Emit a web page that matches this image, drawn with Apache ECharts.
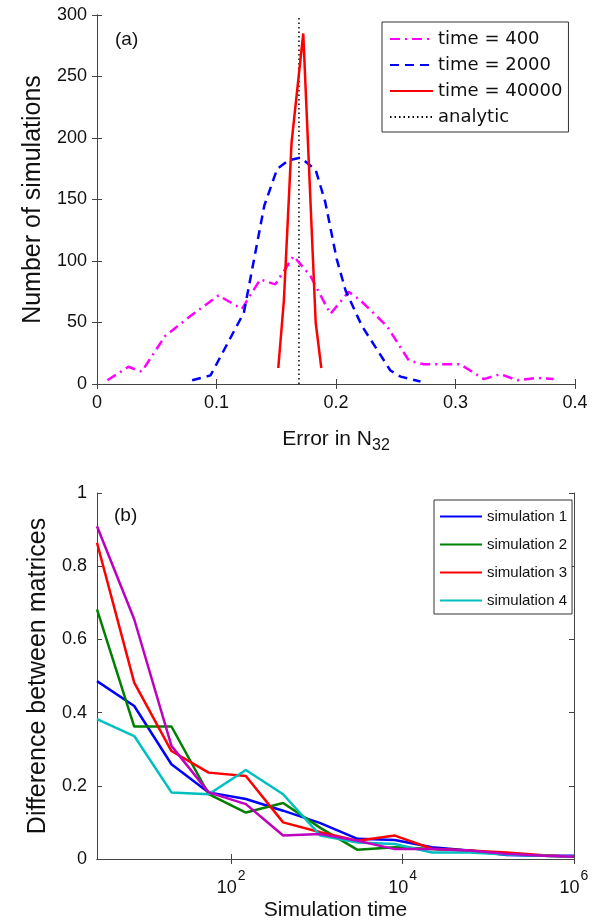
<!DOCTYPE html>
<html>
<head>
<meta charset="utf-8">
<script src="https://cdn.jsdelivr.net/npm/echarts@6/dist/echarts.min.js"></script>
<style>
html,body{margin:0;padding:0;background:#fff;}
#chart{width:593px;height:922px;}
</style>
</head>
<body>
<div id="chart"></div>
<script>
// ---------- Panel (a) data ----------
const t400X = [0.0087,0.0263,0.0374,0.057,0.0779,0.1017,0.1212,0.1366,0.1492,0.1645,0.1785,0.1953,0.2106,0.2204,0.2427,0.261,0.2735,0.304,0.3237,0.3377,0.3517,0.368,0.382];
const t400Y = [3,14,10,39,55,72,61,85,81,104,88,57,75,68,47,19,16,16,4,8,3,5,4];
const t2000X = [0.0796,0.095,0.1229,0.14,0.1508,0.1606,0.1704,0.183,0.191,0.2005,0.208,0.2218,0.2455,0.254,0.2707];
const t2000Y = [3,7,58,145,175,182,184,174,148,102,76,47,11,6,2];
const t40000X = [0.1517,0.1564,0.1628,0.1726,0.183,0.1877];
const t40000Y = [13,68,196,285,50,13];
const analyticX = [0.169,0.169];
const analyticY = [0,300];
const seriesA = ['time = 400','time = 2000','time = 40000','analytic'];
const xTicksA = [0,0.1,0.2,0.3,0.4];
const yTicksA = [0,50,100,150,200,250,300];

// ---------- Panel (b) data ----------
const simTimes = [2.718,7.389,20.09,54.6,148.4,403.4,1097,2981,8103,22026,59874,162755,442413,1000000];
const sim1 = [0.486,0.418,0.259,0.182,0.164,0.132,0.098,0.055,0.052,0.032,0.023,0.011,0.009,0.009];
const sim2 = [0.682,0.362,0.362,0.177,0.127,0.153,0.085,0.025,0.032,0.027,0.023,0.014,0.009,0.006];
const sim3 = [0.864,0.482,0.295,0.236,0.227,0.100,0.073,0.050,0.064,0.028,0.023,0.018,0.010,0.006];
const sim4 = [0.382,0.336,0.182,0.177,0.243,0.177,0.064,0.045,0.041,0.018,0.018,0.012,0.009,0.006];
const sim5 = [0.909,0.655,0.309,0.182,0.150,0.064,0.068,0.050,0.027,0.027,0.023,0.014,0.009,0.006];
const simNames = ['simulation 1','simulation 2','simulation 3','simulation 4','simulation 5'];
const xTicksB = [100,10000,1000000];
const yTicksB = [0,0.2,0.4,0.6,0.8,1];

const FONT = 'Liberation Sans';
const zip = (xs, ys) => xs.map((x, i) => [x, ys[i]]);
function powLabel(v){
  const e = Math.round(Math.log10(v));
  if (Math.abs(Math.log10(v) - e) > 1e-6 || xTicksB.indexOf(Math.pow(10,e)) < 0) return '';
  return '{b|10}{s|' + e + '}';
}

const chart = echarts.init(document.getElementById('chart'), null, {renderer:'canvas'});
const frameAxis = {
  axisLine:{show:true, lineStyle:{color:'#444', width:1}},
  axisTick:{show:true, inside:true, length:5, lineStyle:{color:'#444'}},
  axisLabel:{show:false},
  splitLine:{show:false}
};
const tickFont = {color:'#111', fontFamily:FONT, fontSize:18};
const legendHide = {opacity:0};

const option = {
  animation:false,
  backgroundColor:'#fff',
  textStyle:{fontFamily:FONT},
  grid:[
    {left:97, right:18, top:15, height:369},
    {left:97, right:19, top:493, height:367}
  ],
  xAxis:[
    {gridIndex:0, type:'value', min:xTicksA[0], max:xTicksA[xTicksA.length-1], interval:0.1,
     name:'{a|Error in N}{s|32}', nameLocation:'middle', nameGap:40,
     nameTextStyle:{rich:{a:{fontFamily:FONT,fontSize:21,color:'#111'}, s:{fontFamily:FONT,fontSize:16,color:'#111',padding:[14,0,0,0]}}},
     axisLine:{show:true, lineStyle:{color:'#444'}},
     axisTick:{show:true, inside:true, length:5, lineStyle:{color:'#444'}},
     axisLabel:Object.assign({margin:10, formatter:v=>String(v)}, tickFont),
     splitLine:{show:false}},
    Object.assign({gridIndex:0, type:'value', position:'top', min:0, max:0.4, interval:0.1}, frameAxis),
    {gridIndex:1, type:'log', logBase:10, min:simTimes[0], max:simTimes[simTimes.length-1], splitNumber:3,
     name:'Simulation time', nameLocation:'middle', nameGap:41,
     nameTextStyle:{fontFamily:FONT, fontSize:21, color:'#111'},
     axisLine:{show:true, lineStyle:{color:'#444'}},
     axisTick:{show:true, inside:true, length:5, lineStyle:{color:'#444'}, customValues:xTicksB},
     axisLabel:{show:true, margin:6, customValues:xTicksB, formatter:powLabel,
       rich:{b:{fontFamily:FONT,fontSize:18,color:'#111',padding:[14,0,0,0]}, s:{fontFamily:FONT,fontSize:14,color:'#111',padding:[0,0,10,1]}}},
     splitLine:{show:false}},
    Object.assign({gridIndex:1, type:'log', logBase:10, position:'top', min:simTimes[0], max:simTimes[simTimes.length-1], splitNumber:3}, frameAxis,
      {axisTick:{show:true, inside:true, length:5, lineStyle:{color:'#444'}, customValues:xTicksB}})
  ],
  yAxis:[
    {gridIndex:0, type:'value', min:0, max:300, interval:50,
     name:'Number of simulations', nameLocation:'middle', nameGap:41,
     nameTextStyle:{fontFamily:FONT, fontSize:25, color:'#111'},
     axisLine:{show:true, lineStyle:{color:'#444'}},
     axisTick:{show:true, inside:true, length:5, lineStyle:{color:'#444'}},
     axisLabel:Object.assign({margin:10}, tickFont),
     splitLine:{show:false}},
    Object.assign({gridIndex:0, type:'value', position:'right', min:0, max:300, interval:50}, frameAxis),
    {gridIndex:1, type:'value', min:0, max:1, interval:0.2,
     name:'Difference between matrices', nameLocation:'middle', nameGap:41,
     nameTextStyle:{fontFamily:FONT, fontSize:25, color:'#111'},
     axisLine:{show:true, lineStyle:{color:'#444'}},
     axisTick:{show:true, inside:true, length:5, lineStyle:{color:'#444'}},
     axisLabel:Object.assign({margin:10}, tickFont),
     splitLine:{show:false}},
    Object.assign({gridIndex:1, type:'value', position:'right', min:0, max:1, interval:0.2}, frameAxis)
  ],
  legend:[
    {orient:'vertical', left:382, top:22, data:seriesA,
     itemWidth:43, itemHeight:12, itemGap:8, padding:[8,6,6,7],
     itemStyle:legendHide,
     borderColor:'#333', borderWidth:1, backgroundColor:'#fff',
     textStyle:{fontFamily:'DejaVu Sans', fontSize:18, color:'#111'}},
    {orient:'vertical', left:434, top:500, data:simNames.slice(0,4),
     itemWidth:42, itemHeight:12, itemGap:13, padding:[9,5,6,5],
     itemStyle:legendHide,
     borderColor:'#333', borderWidth:1, backgroundColor:'#fff',
     textStyle:{fontFamily:FONT, fontSize:15, color:'#111'}}
  ],
  graphic:[
    {type:'text', left:115, top:30, style:{text:'(a)', fontFamily:FONT, fontSize:19, fill:'#111'}},
    {type:'text', left:114, top:506, style:{text:'(b)', fontFamily:FONT, fontSize:19, fill:'#111'}}
  ],
  series:[
    {name:seriesA[0], type:'line', xAxisIndex:0, yAxisIndex:0, data:zip(t400X,t400Y), symbol:'none',
     lineStyle:{color:'#FF00FF', width:2.5, type:[10,5,2,5]}, itemStyle:{color:'#FF00FF'}},
    {name:seriesA[1], type:'line', xAxisIndex:0, yAxisIndex:0, data:zip(t2000X,t2000Y), symbol:'none',
     lineStyle:{color:'#0000FF', width:2.5, type:[9,6]}, itemStyle:{color:'#0000FF'}},
    {name:seriesA[2], type:'line', xAxisIndex:0, yAxisIndex:0, data:zip(t40000X,t40000Y), symbol:'none',
     lineStyle:{color:'#FF0000', width:2.5}, itemStyle:{color:'#FF0000'}},
    {name:seriesA[3], type:'line', xAxisIndex:0, yAxisIndex:0, data:zip(analyticX,analyticY), symbol:'none',
     lineStyle:{color:'#000', width:1.5, type:[1.5,3]}, itemStyle:{color:'#000'}, z:1},
    {name:simNames[0], type:'line', xAxisIndex:2, yAxisIndex:2, data:zip(simTimes,sim1), symbol:'none',
     lineStyle:{color:'#0000FF', width:2.5}, itemStyle:{color:'#0000FF'}},
    {name:simNames[1], type:'line', xAxisIndex:2, yAxisIndex:2, data:zip(simTimes,sim2), symbol:'none',
     lineStyle:{color:'#008000', width:2.5}, itemStyle:{color:'#008000'}},
    {name:simNames[2], type:'line', xAxisIndex:2, yAxisIndex:2, data:zip(simTimes,sim3), symbol:'none',
     lineStyle:{color:'#FF0000', width:2.5}, itemStyle:{color:'#FF0000'}},
    {name:simNames[3], type:'line', xAxisIndex:2, yAxisIndex:2, data:zip(simTimes,sim4), symbol:'none',
     lineStyle:{color:'#00BFBF', width:2.5}, itemStyle:{color:'#00BFBF'}},
    {name:simNames[4], type:'line', xAxisIndex:2, yAxisIndex:2, data:zip(simTimes,sim5), symbol:'none',
     lineStyle:{color:'#BF00BF', width:2.5}, itemStyle:{color:'#BF00BF'}}
  ]
};
chart.setOption(option);
</script>
</body>
</html>
